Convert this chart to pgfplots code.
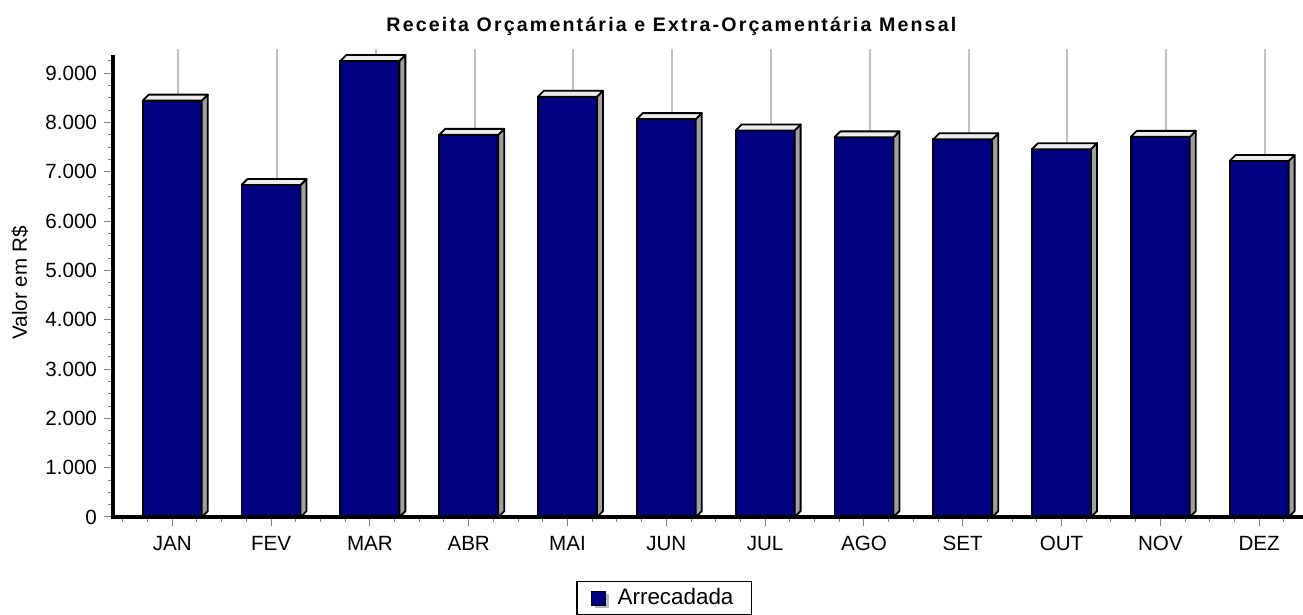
\documentclass[border=0pt]{standalone}
\usepackage{pgfplots}
\pgfplotsset{compat=1.18}
\usepackage{pgfplotstable}
\usepackage{fontspec}
\setmainfont{Liberation Sans}
\definecolor{barnavy}{HTML}{000080}
\definecolor{sidegray}{HTML}{A0A0A0}
\definecolor{topgray}{HTML}{ECECEC}
\definecolor{gridc}{HTML}{C0C0C0}
\definecolor{tickc}{HTML}{808080}
\pgfplotstableread{
x v
0 8445
1 6735
2 9250
3 7750
4 8525
5 8070
6 7840
7 7700
8 7660
9 7460
10 7710
11 7220
}\datatable
\pgfdeclareplotmark{bar3d}{%
  \pgfmathsetmacro\Hb{3-\vv*0.0246526}%
  \pgfmathsetmacro\Hc{-\vv*0.0246526}%
  \draw[black, line width=0.9pt, fill=sidegray, line join=round] (14.75pt,0pt) -- (17.75pt,3pt) -- (17.75pt,\Hb pt) -- (14.75pt,\Hc pt) -- cycle;
  \draw[black, line width=0.9pt, fill=topgray, line join=round] (-14.75pt,0pt) -- (14.75pt,0pt) -- (17.75pt,3pt) -- (-11.75pt,3pt) -- cycle;
}
\begin{document}
\begin{tikzpicture}
\useasboundingbox (-56.5pt,-49pt) rectangle (595pt,258.5pt);
\begin{axis}[
  scale only axis, width=595.3pt, height=234.2pt,
  xmin=-0.6, xmax=11.45, ymin=0, ymax=9500,
  axis x line=bottom, axis y line=left, axis line style={draw=none},
  clip=false,
  xtick={0,...,11},
  xticklabels={JAN,FEV,MAR,ABR,MAI,JUN,JUL,AGO,SET,OUT,NOV,DEZ},
  xticklabel style={yshift=-1.5pt},
  minor xtick={-0.5,-0.25,...,11.25},
  ytick={0,1000,...,9000},
  minor ytick={250,500,...,9250},
  extra x ticks={0.06,1.06,...,11.06},
  extra x tick labels={},
  extra x tick style={grid=major, major tick length=0pt, grid style={gridc, line width=1pt}},
  tick align=outside,
  major tick length=4.5pt, minor tick length=2.4pt,
  tick style={tickc, line width=0.5pt},
  scaled y ticks=false,
  /pgf/number format/1000 sep={.},
  /pgf/number format/assume math mode=true,
  tick label style={font=\fontsize{10.3}{12}\selectfont, black},
  ylabel={Valor em R\$},
  every axis y label/.style={at={(axis description cs:-0.0782,0.5)}, anchor=center, rotate=90, font=\fontsize{10.3}{12}\selectfont},
  title={Receita Orçamentária e Extra-Orçamentária Mensal},
  title style={at={(axis description cs:0.469,1)}, anchor=base, yshift=2.75pt, font=\bfseries\fontsize{9.8}{12}\selectfont\addfontfeature{LetterSpace=11}},
  legend style={at={(axis description cs:0.463,-0.1366)}, anchor=north, draw=black, line width=0.6pt, font=\fontsize{11.2}{13}\selectfont, inner xsep=7pt, inner ysep=1.5pt},
]
\addplot[ybar, bar width=29.5pt, fill=barnavy, draw=black, line width=0.9pt,
  legend image code/.code={
    \path[draw=none, fill=none] (0pt,0pt) rectangle (11pt,0.1pt);
    \fill[gray!55, draw=none] (1.5pt,-5pt) rectangle (8.5pt,2pt);
    \draw[black, line width=0.6pt, fill=barnavy] (0pt,-3.5pt) rectangle (7pt,3.5pt);
  }] table[x=x,y=v] {\datatable};
\addlegendentry{Arrecadada}
\addplot[only marks, mark=bar3d, forget plot, visualization depends on={\thisrow{v} \as \vv}] table[x=x,y=v] {\datatable};
\draw[black, line width=1.7pt] (axis cs:-0.6,9370) -- (axis cs:-0.6,0) -- (axis cs:11.45,0);
\end{axis}
\end{tikzpicture}
\end{document}
